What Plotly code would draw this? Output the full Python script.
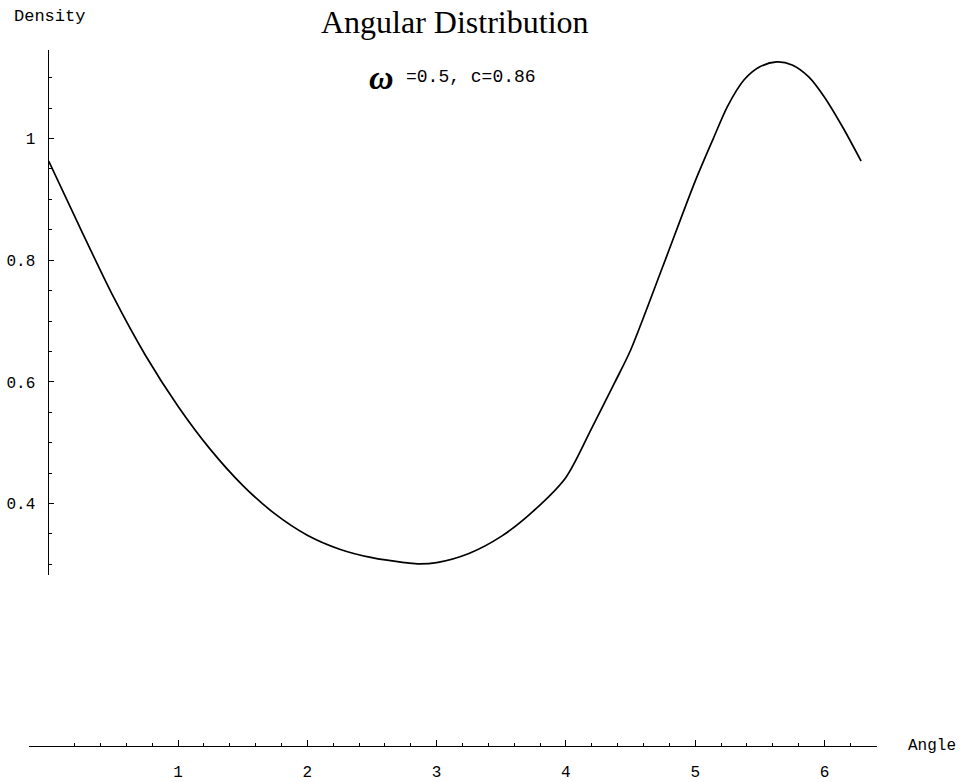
import plotly.graph_objects as go

# Curve values
angle = [0, 0.25, 0.5, 0.75, 1.0, 1.25, 1.5, 1.75, 2.0, 2.25, 2.5, 2.75, 2.85,
         3.0, 3.25, 3.5, 3.75, 4.0, 4.2, 4.38, 4.5, 4.75, 5.0, 5.14, 5.25, 5.38,
         5.5, 5.63, 5.75, 5.88, 6.0, 6.14, 6.283]
density = [0.963, 0.850, 0.740, 0.643, 0.560, 0.489, 0.430, 0.383, 0.348, 0.325,
           0.311, 0.303, 0.301, 0.303, 0.318, 0.346, 0.388, 0.443, 0.524, 0.600,
           0.652, 0.790, 0.930, 1.000, 1.053, 1.097, 1.118, 1.126, 1.121, 1.101,
           1.068, 1.019, 0.963]

x_ticks = [1, 2, 3, 4, 5, 6]
x_ticklabels = ["1", "2", "3", "4", "5", "6"]
x_minor = [round(0.2 * i, 2) for i in range(1, 33) if i % 5 != 0]
y_ticks = [0.4, 0.6, 0.8, 1.0]
y_ticklabels = ["0.4", "0.6", "0.8", "1"]
y_minor = [round(0.05 * i, 2) for i in range(6, 23) if i % 4 != 0]

W, H = 961, 782
MONO = "Liberation Mono"

fig = go.Figure()
fig.add_trace(go.Scatter(x=angle, y=density, mode="lines",
                         line=dict(color="black", width=1.7, shape="spline", smoothing=0.8),
                         xaxis="x", yaxis="y", showlegend=False, hoverinfo="skip"))
fig.add_trace(go.Scatter(x=[], y=[], xaxis="x2", yaxis="y2", showlegend=False))

fig.update_layout(
    width=W, height=H,
    margin=dict(l=0, r=0, t=0, b=0),
    paper_bgcolor="white", plot_bgcolor="rgba(0,0,0,0)",
    xaxis=dict(domain=[48.7 / W, 877 / W], range=[0, 6.406], visible=False, fixedrange=True),
    yaxis=dict(domain=[(H - 578.3) / H, (H - 50) / H], range=[0.282, 1.146],
               showline=True, linecolor="black", linewidth=1.4, showgrid=False, zeroline=False,
               ticks="inside", ticklen=5, tickcolor="black", tickwidth=1.2,
               tickvals=y_ticks, ticktext=y_ticklabels, ticklabelstandoff=9,
               tickfont=dict(family=MONO, size=16, color="black"),
               minor=dict(tickvals=y_minor, ticks="inside", ticklen=3, tickcolor="black", tickwidth=1)),
    xaxis2=dict(domain=[29 / W, 877 / W], range=[-0.1524, 6.406], anchor="y2",
                showline=True, linecolor="black", linewidth=1.4, showgrid=False, zeroline=False,
                ticks="inside", ticklen=6, tickcolor="black", tickwidth=1.2,
                tickvals=x_ticks, ticktext=x_ticklabels, ticklabelstandoff=10,
                tickfont=dict(family=MONO, size=16, color="black"),
                minor=dict(tickvals=x_minor, ticks="inside", ticklen=3, tickcolor="black", tickwidth=1)),
    yaxis2=dict(domain=[(H - 750) / H, (H - 740) / H], range=[0, 1], anchor="x2", visible=False),
    annotations=[
        dict(text="Angular Distribution", x=455 / W, y=1 - 22 / H, xref="paper", yref="paper",
             xanchor="center", yanchor="middle", showarrow=False,
             font=dict(family="Liberation Serif", size=32, color="black")),
        dict(text="Density", x=12 / W, y=1 - 17 / H, xref="paper", yref="paper",
             xanchor="left", yanchor="middle", showarrow=False,
             font=dict(family=MONO, size=17, color="black")),
        dict(text="Angle", x=906 / W, y=1 - 750 / H, xref="paper", yref="paper",
             xanchor="left", yanchor="middle", showarrow=False,
             font=dict(family=MONO, size=16, color="black")),
        dict(text="<b><i>ω</i></b>", x=381 / W, y=1 - 78 / H, xref="paper", yref="paper",
             xanchor="center", yanchor="middle", showarrow=False,
             font=dict(family="Liberation Serif", size=34, color="black")),
        dict(text="=0.5, c=0.86", x=404 / W, y=1 - 77 / H, xref="paper", yref="paper",
             xanchor="left", yanchor="middle", showarrow=False,
             font=dict(family=MONO, size=18, color="black")),
    ],
)

fig.write_html("out.html")
